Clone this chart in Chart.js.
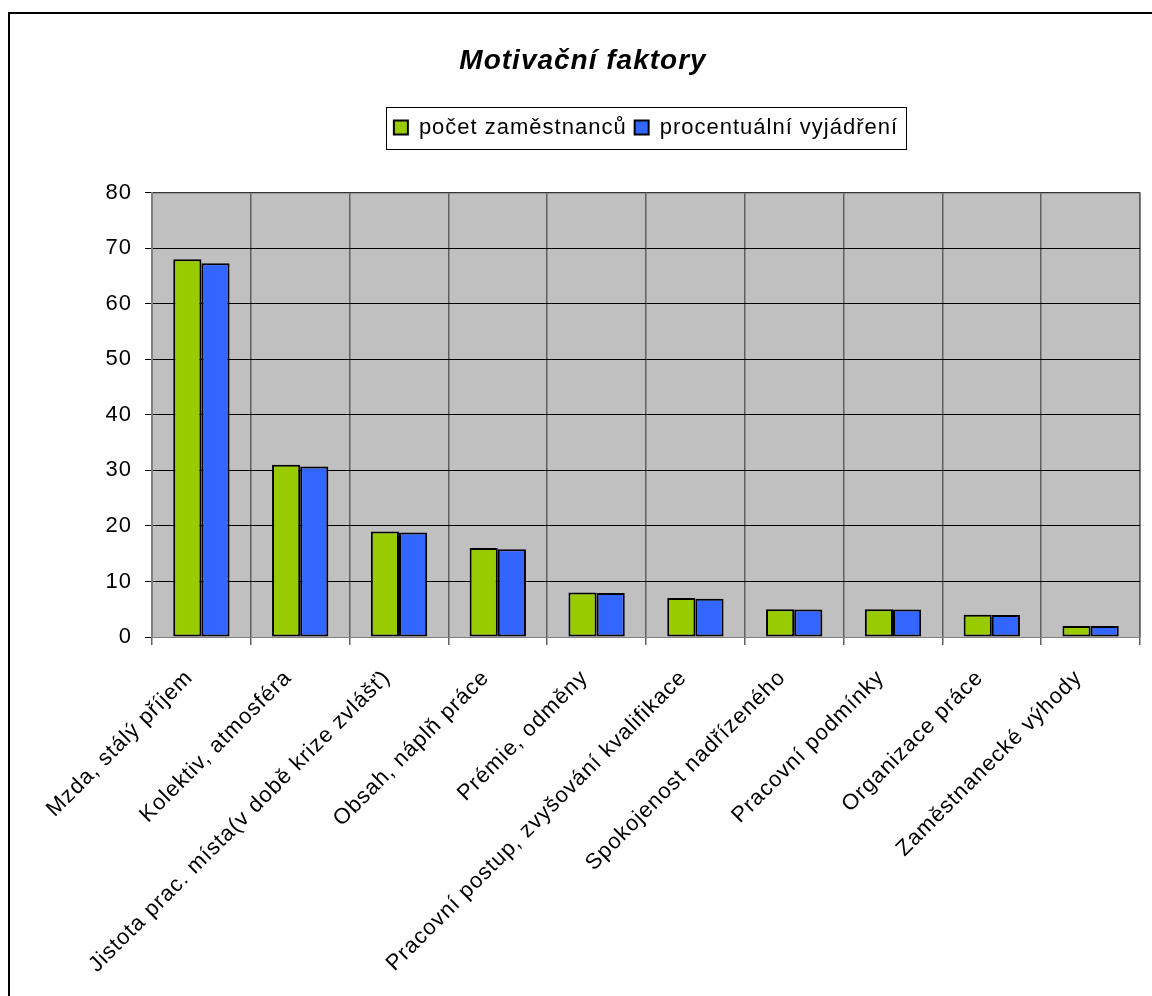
<!DOCTYPE html>
<html>
<head>
<meta charset="utf-8">
<script src="https://cdn.jsdelivr.net/npm/chart.js"></script>
<style>
html, body { margin: 0; padding: 0; background: #fff; }
#wrap { width: 1152px; height: 996px; }
</style>
</head>
<body>
<div id="wrap"><canvas id="graf"></canvas></div>
<script>
const kategorie = [
    'Mzda, stálý příjem',
    'Kolektiv, atmosféra',
    'Jistota prac. místa(v době krize zvlášť)',
    'Obsah, náplň práce',
    'Prémie, odměny',
    'Pracovní postup, zvyšování kvalifikace',
    'Spokojenost nadřízeného',
    'Pracovní podmínky',
    'Organizace práce',
    'Zaměstnanecké výhody'
];
const pocetZamestnancu = [68, 31, 19, 16, 8, 7, 5, 5, 4, 2];
const procentualniVyjadreni = [67.3, 30.7, 18.8, 15.8, 7.9, 6.9, 4.95, 4.95, 3.96, 1.98];
const osaYMin = 0;
const osaYMax = 80;
const osaYKrok = 10;

const pismo = "'Liberation Sans', Arial, sans-serif";

// seda plocha grafu, ramecek kolem obrazku a kolem legendy
const pozadiPlugin = {
    id: 'pozadi',
    beforeUpdate(chart) {
        chart.ctx.letterSpacing = '1px';
    },
    beforeLayout(chart) {
        // mezera mezi legendou a grafem
        const lg = chart.legend;
        if (lg && !lg._upraveno) {
            const puvodni = lg.fit.bind(lg);
            lg.fit = function () { puvodni(); this.height += 44; };
            lg._upraveno = true;
        }
    },
    afterLayout(chart) {
        // legenda je vycentrovana nad plochou grafu
        const lg = chart.legend;
        const a = chart.chartArea;
        const posun = (a.left + a.right) / 2 - (lg.left + lg.right) / 2;
        lg.left += posun;
        lg.right += posun;
        // nadpis trochu doprava
        const t = chart.titleBlock;
        if (t) {
            t.left += 13;
            t.right += 13;
        }
    },
    beforeDraw(chart) {
        const ctx = chart.ctx;
        const a = chart.chartArea;
        ctx.letterSpacing = '1px';
        ctx.save();
        ctx.fillStyle = '#fff';
        ctx.fillRect(0, 0, chart.width, chart.height);
        ctx.strokeStyle = '#000';
        ctx.lineWidth = 2;
        ctx.strokeRect(9, 13, chart.width + 20, chart.height + 20);
        ctx.fillStyle = '#c0c0c0';
        ctx.fillRect(a.left, a.top, a.right - a.left, a.bottom - a.top);
        ctx.restore();
    },
    afterDraw(chart) {
        const ctx = chart.ctx;
        const a = chart.chartArea;
        ctx.save();
        ctx.strokeStyle = '#808080';
        ctx.lineWidth = 1;
        ctx.strokeRect(a.left + 0.5, a.top + 0.5, a.right - a.left, a.bottom - a.top);
        const boxy = chart.legend.legendHitBoxes;
        if (boxy && boxy.length) {
            let x1 = Infinity, y1 = Infinity, x2 = -Infinity, y2 = -Infinity;
            boxy.forEach(b => {
                x1 = Math.min(x1, b.left);
                y1 = Math.min(y1, b.top);
                x2 = Math.max(x2, b.left + b.width);
                y2 = Math.max(y2, b.top + b.height);
            });
            ctx.strokeStyle = '#000';
            ctx.strokeRect(Math.round(x1 - 8) + 0.5, Math.round(y1 - 10) + 0.5,
                Math.round(x2 - x1 + 16), Math.round(y2 - y1 + 20));
        }
        ctx.restore();
    }
};

document.addEventListener('DOMContentLoaded', function () {
    const ctx = document.getElementById('graf').getContext('2d');
    new Chart(ctx, {
        type: 'bar',
        data: {
            labels: kategorie,
            datasets: [{
                label: 'počet zaměstnanců',
                data: pocetZamestnancu,
                backgroundColor: '#99cc00',
                borderColor: '#000',
                borderWidth: 2,
                borderSkipped: false
            }, {
                label: 'procentuální vyjádření',
                data: procentualniVyjadreni,
                backgroundColor: '#3366ff',
                borderColor: '#000',
                borderWidth: 2,
                borderSkipped: false
            }]
        },
        options: {
            responsive: true,
            maintainAspectRatio: false,
            animation: false,
            layout: { padding: { top: 0, right: 12, bottom: 0, left: 0 } },
            datasets: {
                bar: { categoryPercentage: 0.57, barPercentage: 1.0 }
            },
            plugins: {
                title: {
                    display: true,
                    text: 'Motivační faktory',
                    color: '#000',
                    font: { family: pismo, size: 28, weight: 'bold', style: 'italic' },
                    padding: { top: 44, bottom: 31 }
                },
                legend: {
                    display: true,
                    labels: {
                        color: '#000',
                        font: { family: pismo, size: 22 },
                        boxWidth: 14,
                        boxHeight: 14,
                        padding: 8
                    }
                },
                tooltip: { enabled: false }
            },
            scales: {
                x: {
                    grid: {
                        offset: true,
                        color: '#606060',
                        lineWidth: 1.5,
                        tickLength: 8
                    },
                    border: { color: '#808080' },
                    ticks: {
                        color: '#000',
                        font: { family: pismo, size: 22 },
                        minRotation: 45,
                        maxRotation: 45,
                        autoSkip: false,
                        padding: 20,
                        labelOffset: -12
                    },
                    afterFit(scale) { scale.height = 996 - 637; }
                },
                y: {
                    min: osaYMin,
                    max: osaYMax,
                    ticks: {
                        stepSize: osaYKrok,
                        color: '#000',
                        font: { family: pismo, size: 22 },
                        padding: 13
                    },
                    grid: {
                        color: '#000',
                        lineWidth: 1,
                        tickLength: 7
                    },
                    border: { color: '#808080', width: 2 },
                    afterFit(scale) { scale.width = 152; }
                }
            }
        },
        plugins: [pozadiPlugin]
    });
});
</script>
</body>
</html>
